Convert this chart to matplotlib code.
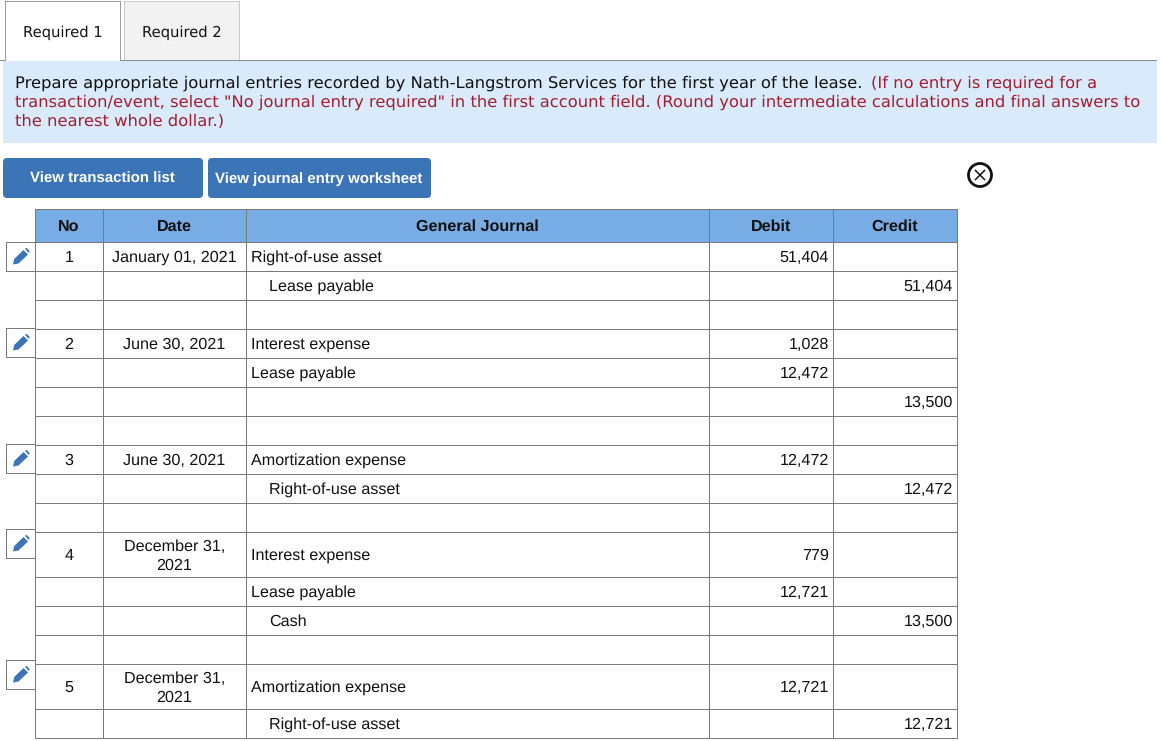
import matplotlib.pyplot as plt
from matplotlib.patches import Rectangle, FancyBboxPatch, Circle, Polygon

plt.rcParams["text.hinting"] = "no_hinting"

# table content, one entry per row
entry_no = ["1", "", "", "2", "", "", "", "3", "", "", "4", "", "", "", "5", ""]
dates = ["January 01, 2021", "", "", "June 30, 2021", "", "", "", "June 30, 2021", "", "",
         "December 31,\n2021", "", "", "", "December 31,\n2021", ""]
accounts = ["Right-of-use asset", "Lease payable", "", "Interest expense", "Lease payable", "", "",
            "Amortization expense", "Right-of-use asset", "", "Interest expense", "Lease payable",
            "Cash", "", "Amortization expense", "Right-of-use asset"]
indented = [False, True, False, False, False, False, False, False, True, False, False, False,
            True, False, False, True]
debits = ["51,404", "", "", "1,028", "12,472", "", "", "12,472", "", "", "779", "12,721", "", "",
          "12,721", ""]
credits = ["", "51,404", "", "", "", "13,500", "", "", "12,472", "", "", "", "13,500", "", "",
           "12,721"]
headers = ["No", "Date", "General Journal", "Debit", "Credit"]
tabs = ["Required 1", "Required 2"]
buttons = ["View transaction list", "View journal entry worksheet"]

intro_black = "Prepare appropriate journal entries recorded by Nath-Langstrom Services for the first year of the lease."
intro_red_1 = "(If no entry is required for a"
intro_red_2 = "transaction/event, select \"No journal entry required\" in the first account field. (Round your intermediate calculations and final answers to"
intro_red_3 = "the nearest whole dollar.)"

# layout in pixels
col_x = [35, 103, 246, 709, 833, 957]
row_y = [209, 242, 271, 300, 329, 358, 387, 416, 445, 474, 503, 532, 577, 606, 635, 664, 709, 738]
edit_y = [242, 328, 444, 529, 660]
GRID = "#7a7a7a"
HEADER = "#78ace4"
BLUE = "#3b75b8"
RED = "#a61c2e"
TABLE_FONT = "Liberation Sans"
TOP_FONT = "DejaVu Sans"
TEXT = "#111111"

fig = plt.figure(figsize=(11.61, 7.41), dpi=100)
ax = fig.add_axes([0, 0, 1, 1])
ax.set_xlim(0, 1161)
ax.set_ylim(741, 0)
ax.axis("off")


def hline(x0, x1, y, color=GRID):
    ax.plot([x0, x1], [y + 0.5, y + 0.5], color=color, lw=0.72, zorder=3, solid_capstyle="butt", snap=False)


def vline(x, y0, y1, color=GRID):
    ax.plot([x + 0.5, x + 0.5], [y0, y1], color=color, lw=0.72, zorder=3, solid_capstyle="butt", snap=False)


def draw_pencil(b):
    # b is the top of the edit box
    body = [(13, b + 22.5), (14.2, b + 17), (23.5, b + 8), (28, b + 12.5), (18.5, b + 21.5)]
    cap = [(25, b + 6.8), (26.5, b + 5.8), (29.7, b + 9), (28.8, b + 11)]
    ax.add_patch(Polygon(body, fc=BLUE, ec="none", zorder=4))
    ax.add_patch(Polygon(cap, fc=BLUE, ec="none", zorder=4))


# tabs
ax.add_patch(Rectangle((5, 1), 116, 60, fc="white", ec="none"))
ax.add_patch(Rectangle((124, 1), 116, 60, fc="#f2f2f2", ec="none"))
for x0, x1, color in [(5, 120, "#9a9a9a"), (124, 239, "#c8c8c8")]:
    hline(x0, x1 + 1, 1, color)
    vline(x0, 1, 61, color)
    vline(x1, 1, 61, color)
for cx, label in zip([63, 182], tabs):
    ax.text(cx, 37, label, family=TOP_FONT, fontsize=10.6, ha="center", va="baseline", color=TEXT)
hline(0, 5, 60, "#8a8a8a")
hline(120, 1157, 60, "#8a8a8a")

# instruction box
ax.add_patch(Rectangle((3, 61), 1154, 82, fc="#d9ebfb", ec="none"))
ax.text(15, 88, intro_black, family=TOP_FONT, fontsize=11.78, va="baseline", color=TEXT)
ax.text(871, 88, intro_red_1, family=TOP_FONT, fontsize=11.78, va="baseline", color=RED)
ax.text(15, 107, intro_red_2, family=TOP_FONT, fontsize=11.76, va="baseline", color=RED)
ax.text(15, 126, intro_red_3, family=TOP_FONT, fontsize=11.78, va="baseline", color=RED)

# buttons
for (bx, bw), label in zip([(3, 200), (208, 223)], buttons):
    ax.add_patch(FancyBboxPatch((bx, 158), bw, 40, boxstyle="round,pad=0,rounding_size=4",
                                fc=BLUE, ec="none"))
    ax.text(bx + bw / 2 - 0.5, 183, label, family=TABLE_FONT, fontsize=10.85, weight="bold", color="white",
            ha="center", va="baseline")

# close icon
ax.add_patch(Circle((980, 175), 11.5, fc="white", ec=TEXT, lw=2))
ax.plot([975.5, 984.5], [170.5, 179.5], color=TEXT, lw=1.1)
ax.plot([975.5, 984.5], [179.5, 170.5], color=TEXT, lw=1.1)

# header
ax.add_patch(Rectangle((col_x[0], row_y[0]), col_x[-1] - col_x[0], row_y[1] - row_y[0], fc=HEADER, ec="none"))
for i, label in enumerate(headers):
    ax.text((col_x[i] + col_x[i + 1]) / 2, 231, label, family=TABLE_FONT, fontsize=11.6,
            weight="bold", ha="center", va="baseline", color=TEXT)

# grid
for x in col_x:
    vline(x, row_y[0], row_y[-1] + 1)
for y in row_y:
    hline(col_x[0], col_x[-1] + 1, y)

# rows
style = dict(family=TABLE_FONT, fontsize=11.65, va="baseline", color=TEXT)
for i in range(len(accounts)):
    mid = (row_y[i + 1] + row_y[i + 2]) / 2
    base = mid + 5.5
    ax.text((col_x[0] + col_x[1]) / 2, base, entry_no[i], ha="center", **style)
    date_lines = dates[i].split("\n")
    if len(date_lines) == 2:
        ax.text((col_x[1] + col_x[2]) / 2, mid - 3.5, date_lines[0], ha="center", **style)
        ax.text((col_x[1] + col_x[2]) / 2, mid + 15.5, date_lines[1], ha="center", **style)
    else:
        ax.text((col_x[1] + col_x[2]) / 2, base, dates[i], ha="center", **style)
    indent = 23 if indented[i] else 5
    ax.text(col_x[2] + indent, base, accounts[i], ha="left", **style)
    ax.text(col_x[4] - 4, base, debits[i], ha="right", **style)
    ax.text(col_x[5] - 4, base, credits[i], ha="right", **style)

# edit buttons left of each entry
for b in edit_y:
    hline(6, 35, b)
    hline(6, 35, b + 29)
    vline(6, b, b + 30)
    draw_pencil(b)

fig.savefig("out.png", dpi=100)
